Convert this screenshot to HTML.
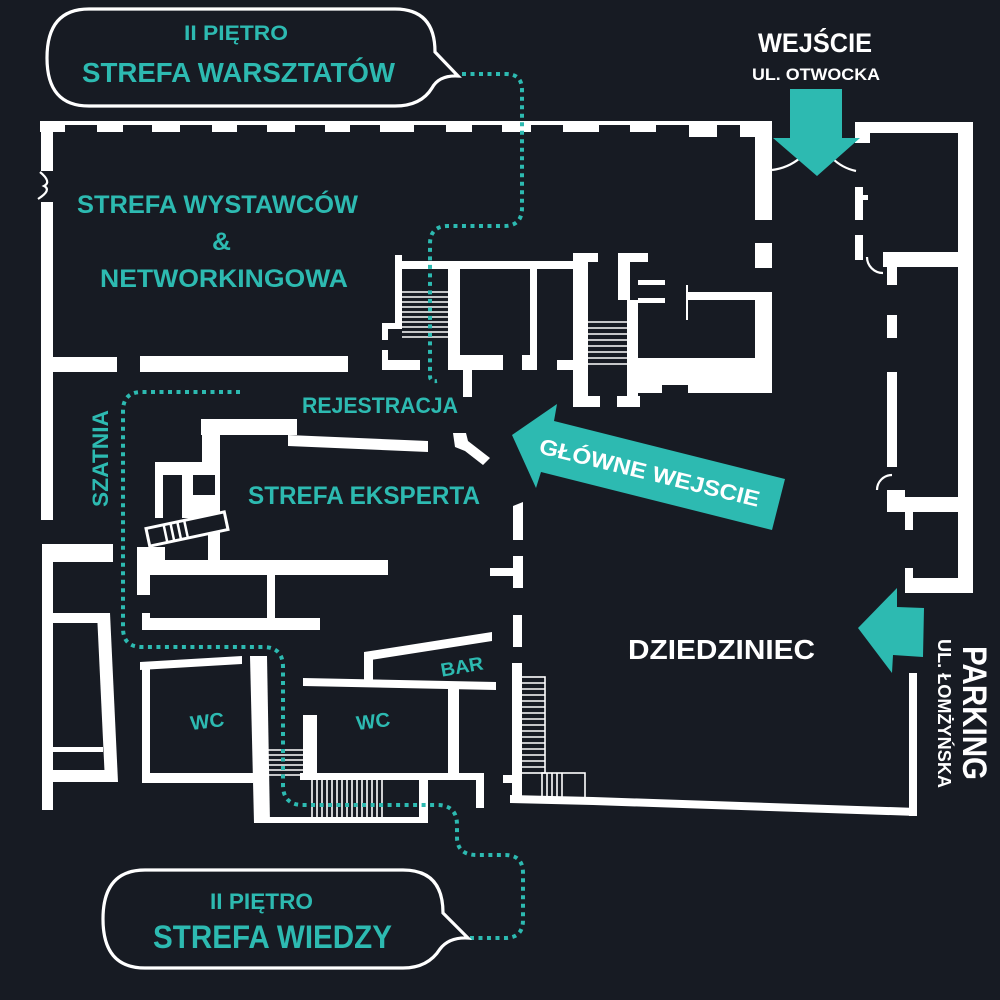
<!DOCTYPE html>
<html><head><meta charset="utf-8"><style>
html,body{margin:0;padding:0;background:#171b23;}
svg{display:block;}
text{font-family:"Liberation Sans","DejaVu Sans",sans-serif;font-weight:bold;}
</style></head><body>
<svg width="1000" height="1000" viewBox="0 0 1000 1000" xmlns="http://www.w3.org/2000/svg">
<rect width="1000" height="1000" fill="#171b23"/>
<g fill="#ffffff">
<!-- top wall -->
<rect x="40" y="121" width="732" height="4"/>
<rect x="40" y="121" width="25" height="11"/>
<rect x="97" y="121" width="26" height="11"/>
<rect x="152" y="121" width="28" height="11"/>
<rect x="212" y="121" width="25" height="11"/>
<rect x="267" y="121" width="28" height="11"/>
<rect x="325" y="121" width="25" height="11"/>
<rect x="380" y="121" width="34" height="11"/>
<rect x="446" y="121" width="26" height="11"/>
<rect x="502" y="121" width="29" height="11"/>
<rect x="563" y="121" width="36" height="11"/>
<rect x="630" y="121" width="26" height="11"/>
<rect x="689" y="121" width="28" height="16"/>
<rect x="740" y="121" width="32" height="16"/>
<!-- left wall -->
<rect x="41" y="121" width="12" height="50"/>
<rect x="41" y="202" width="12" height="318"/>
<rect x="53" y="357" width="64" height="15"/>
<rect x="140" y="356" width="208" height="16"/>
<!-- lower left -->
<rect x="42" y="544" width="11" height="266"/>
<rect x="42" y="544" width="71" height="18"/>
<rect x="53" y="613" width="50" height="10"/>
<polygon points="97,613 110,613 118,782 105,782"/>
<rect x="53" y="747" width="50" height="5"/>
<rect x="53" y="770" width="53" height="12"/>
<!-- middle left structure -->
<rect x="201" y="419" width="96" height="16"/>
<polygon points="288,435 428,441 428,452 288,446"/>
<rect x="202" y="435" width="18" height="30"/>
<rect x="155" y="462" width="65" height="56"/>
<rect x="208" y="518" width="12" height="45"/>
<rect x="137" y="547" width="28" height="15"/>
<rect x="137" y="547" width="13" height="48"/>
<rect x="137" y="560" width="251" height="15"/>
<rect x="267" y="575" width="8" height="45"/>
<rect x="142" y="618" width="178" height="12"/>
<rect x="142" y="613" width="8" height="17"/>
<polygon points="453,433 466,433 468,441 490,458 483,465 465,451 455,447"/>
<!-- center dashed column -->
<polygon points="513,506 523,502 523,540 513,540"/>
<rect x="513" y="556" width="10" height="32"/>
<rect x="490" y="568" width="23" height="8"/>
<rect x="513" y="615" width="9" height="32"/>
<rect x="512" y="663" width="10" height="139"/>
<rect x="503" y="775" width="9" height="8"/>
<!-- bottom wall -->
<polygon points="510,795 593,797 917,808 917,816 593,805 510,803"/>
<rect x="909" y="673" width="8" height="143"/>
<!-- upper middle -->
<rect x="395" y="255" width="7" height="74"/>
<rect x="395" y="261" width="178" height="8"/>
<rect x="382" y="323" width="20" height="6"/>
<rect x="382" y="323" width="6" height="17"/>
<rect x="382" y="350" width="6" height="20"/>
<rect x="382" y="360" width="38" height="10"/>
<rect x="448" y="269" width="12" height="101"/>
<rect x="448" y="355" width="55" height="15"/>
<rect x="463" y="370" width="9" height="27"/>
<rect x="530" y="269" width="7" height="101"/>
<rect x="522" y="355" width="15" height="15"/>
<rect x="557" y="360" width="16" height="10"/>
<rect x="573" y="253" width="15" height="154"/>
<rect x="573" y="253" width="25" height="9"/>
<rect x="573" y="396" width="27" height="11"/>
<rect x="618" y="253" width="30" height="9"/>
<rect x="618" y="262" width="12" height="38"/>
<rect x="627" y="300" width="11" height="107"/>
<rect x="617" y="396" width="23" height="11"/>
<rect x="638" y="280" width="27" height="5"/>
<rect x="638" y="298" width="27" height="5"/>
<rect x="687" y="292" width="85" height="8"/>
<rect x="755" y="292" width="17" height="101"/>
<rect x="627" y="358" width="145" height="27"/>
<rect x="627" y="385" width="35" height="8"/>
<rect x="688" y="385" width="84" height="8"/>
<rect x="686" y="285" width="2" height="35"/>
<!-- entrance left wall -->
<rect x="755" y="121" width="17" height="99"/>
<rect x="755" y="243" width="17" height="25"/>
<!-- right block -->
<rect x="855" y="122" width="118" height="11"/>
<rect x="958" y="122" width="15" height="471"/>
<rect x="855" y="122" width="15" height="21"/>
<rect x="855" y="187" width="8" height="33"/>
<rect x="863" y="195" width="5" height="5"/>
<rect x="855" y="235" width="8" height="25"/>
<rect x="883" y="252" width="75" height="15"/>
<rect x="887" y="267" width="10" height="18"/>
<rect x="887" y="315" width="10" height="23"/>
<rect x="887" y="372" width="10" height="95"/>
<rect x="887" y="490" width="18" height="22"/>
<rect x="887" y="497" width="71" height="15"/>
<rect x="905" y="512" width="8" height="18"/>
<rect x="905" y="568" width="8" height="25"/>
<rect x="905" y="578" width="68" height="15"/>
<!-- WC area -->
<polygon points="140,662 242,656 242,664 140,670"/>
<rect x="142" y="662" width="8" height="121"/>
<rect x="142" y="773" width="111" height="10"/>
<polygon points="250,656 267,656 270,823 254,823"/>
<rect x="266" y="817" width="162" height="6"/>
<polygon points="303,678 496,682 496,690 303,686"/>
<polygon points="364,652 492,632 492,641 364,661"/>
<rect x="364" y="652" width="9" height="28"/>
<rect x="303" y="715" width="14" height="58"/>
<rect x="448" y="689" width="11" height="84"/>
<rect x="300" y="773" width="184" height="7"/>
<rect x="476" y="773" width="8" height="35"/>
<rect x="419" y="780" width="9" height="43"/>
</g>
<!-- dark inner cutouts -->
<g fill="#171b23">
<rect x="163" y="475" width="19" height="45"/>
<rect x="193" y="475" width="22" height="20"/>
</g>
<!-- stairs -->
<g stroke="#ffffff" stroke-width="1.6" fill="none">
<line x1="402" y1="292" x2="448" y2="292"/><line x1="402" y1="297" x2="448" y2="297"/>
<line x1="402" y1="302" x2="448" y2="302"/><line x1="402" y1="307" x2="448" y2="307"/>
<line x1="402" y1="312" x2="448" y2="312"/><line x1="402" y1="317" x2="448" y2="317"/>
<line x1="402" y1="322" x2="448" y2="322"/><line x1="402" y1="327" x2="448" y2="327"/>
<line x1="402" y1="332" x2="448" y2="332"/><line x1="402" y1="337" x2="448" y2="337"/>
<line x1="588" y1="322" x2="627" y2="322"/><line x1="588" y1="328" x2="627" y2="328"/>
<line x1="588" y1="334" x2="627" y2="334"/><line x1="588" y1="340" x2="627" y2="340"/>
<line x1="588" y1="346" x2="627" y2="346"/><line x1="588" y1="352" x2="627" y2="352"/>
<line x1="588" y1="358" x2="627" y2="358"/><line x1="588" y1="364" x2="627" y2="364"/>
<rect x="521" y="677" width="24" height="96"/>
<line x1="521" y1="683" x2="545" y2="683"/><line x1="521" y1="689" x2="545" y2="689"/>
<line x1="521" y1="695" x2="545" y2="695"/><line x1="521" y1="701" x2="545" y2="701"/>
<line x1="521" y1="707" x2="545" y2="707"/><line x1="521" y1="713" x2="545" y2="713"/>
<line x1="521" y1="719" x2="545" y2="719"/><line x1="521" y1="725" x2="545" y2="725"/>
<line x1="521" y1="731" x2="545" y2="731"/><line x1="521" y1="737" x2="545" y2="737"/>
<line x1="521" y1="743" x2="545" y2="743"/><line x1="521" y1="749" x2="545" y2="749"/>
<line x1="521" y1="755" x2="545" y2="755"/><line x1="521" y1="761" x2="545" y2="761"/>
<line x1="521" y1="767" x2="545" y2="767"/>
<rect x="542" y="773" width="43" height="27"/>
<line x1="547" y1="773" x2="547" y2="800"/><line x1="552" y1="773" x2="552" y2="800"/>
<line x1="557" y1="773" x2="557" y2="800"/><line x1="562" y1="773" x2="562" y2="800"/>
<line x1="267" y1="750" x2="303" y2="750"/><line x1="267" y1="755" x2="303" y2="755"/>
<line x1="267" y1="760" x2="303" y2="760"/><line x1="267" y1="765" x2="303" y2="765"/>
<line x1="267" y1="770" x2="303" y2="770"/><line x1="267" y1="775" x2="303" y2="775"/>
<line x1="312" y1="780" x2="312" y2="818"/><line x1="317" y1="780" x2="317" y2="818"/>
<line x1="322" y1="780" x2="322" y2="818"/><line x1="327" y1="780" x2="327" y2="818"/>
<line x1="332" y1="780" x2="332" y2="818"/><line x1="337" y1="780" x2="337" y2="818"/>
<line x1="342" y1="780" x2="342" y2="818"/><line x1="347" y1="780" x2="347" y2="818"/>
<line x1="352" y1="780" x2="352" y2="818"/><line x1="357" y1="780" x2="357" y2="818"/>
<line x1="362" y1="780" x2="362" y2="818"/><line x1="367" y1="780" x2="367" y2="818"/>
<line x1="372" y1="780" x2="372" y2="818"/><line x1="377" y1="780" x2="377" y2="818"/>
<line x1="382" y1="780" x2="382" y2="818"/>
</g>
<!-- rotated stair -->
<g transform="translate(187,529) rotate(-12)">
<rect x="-40" y="-9" width="80" height="18" fill="#171b23" stroke="#fff" stroke-width="3"/>
<g stroke="#fff" stroke-width="2.5">
<line x1="-22" y1="-9" x2="-22" y2="9"/><line x1="-15" y1="-9" x2="-15" y2="9"/>
<line x1="-8" y1="-9" x2="-8" y2="9"/><line x1="-1" y1="-9" x2="-1" y2="9"/>
</g></g>
<!-- door arcs -->
<g stroke="#fff" stroke-width="2.2" fill="none">
<path d="M40,172 Q52,182 44,186 Q52,190 38,199"/>
<path d="M772,170 Q788,168 800,158"/>
<path d="M832,158 Q842,168 856,171"/>
<path d="M867,257 A16,16 0 0 0 883,273"/>
<path d="M892,475 A15,15 0 0 0 877,490"/>
</g>
<!-- dotted paths -->
<g stroke="#2dbab1" stroke-width="4" stroke-dasharray="4 4.5" fill="none">
<path d="M462,74 H506 Q522,74 522,90 V208 Q522,226 504,226 H448 Q430,226 430,244 V376 Q430,382 437,381"/>
<path d="M240,392 H142 Q123,392 123,411 V628 Q123,647 142,647 H263 Q283,647 283,667 V785 Q283,805 303,805 H437 Q457,805 457,825 V837 Q457,855 477,855 H505 Q523,855 523,873 V920 Q523,938 505,938 H470"/>
</g>
<!-- bubbles -->
<g stroke="#fff" stroke-width="3.2" fill="#171b23">
<path d="M89,9 H395 Q435,9 435,52 L458,76 Q439,75 432,88 Q421,106 395,106 H89 Q47,106 47,58 Q47,9 89,9 Z"/>
<path d="M145,870 H403 Q443,870 443,913 L468,938 Q449,937 440,949 Q428,968 403,968 H145 Q103,968 103,919 Q103,870 145,870 Z"/>
</g>
<!-- teal arrows -->
<g fill="#2dbab1">
<polygon points="790,89 842,89 842,138 860,138 817,176 773,138 790,138"/>
<polygon points="858,628 897,588 897,607 924,608 923,657 893,655 892,673"/>
<polygon points="512,435 557,404 554,421 785,479 772,530 541,472 536,488"/>
</g>
<!-- texts -->
<g fill="#2dbab1">
<text x="184" y="40" font-size="21" textLength="104" lengthAdjust="spacingAndGlyphs">II PIĘTRO</text>
<text x="82" y="82" font-size="28" textLength="313" lengthAdjust="spacingAndGlyphs">STREFA WARSZTATÓW</text>
<text x="210" y="909" font-size="22" textLength="103" lengthAdjust="spacingAndGlyphs">II PIĘTRO</text>
<text x="153" y="948" font-size="32" textLength="239" lengthAdjust="spacingAndGlyphs">STREFA WIEDZY</text>
<text x="77" y="213" font-size="25" textLength="281" lengthAdjust="spacingAndGlyphs">STREFA WYSTAWCÓW</text>
<text x="212" y="250" font-size="25" textLength="19" lengthAdjust="spacingAndGlyphs">&amp;</text>
<text x="100" y="287" font-size="25" textLength="248" lengthAdjust="spacingAndGlyphs">NETWORKINGOWA</text>
<text x="302" y="413" font-size="22" textLength="156" lengthAdjust="spacingAndGlyphs">REJESTRACJA</text>
<text x="248" y="504" font-size="25" textLength="232" lengthAdjust="spacingAndGlyphs">STREFA EKSPERTA</text>
<text transform="translate(108,507) rotate(-90)" x="0" y="0" font-size="22" textLength="97" lengthAdjust="spacingAndGlyphs">SZATNIA</text>
<text transform="translate(208,728) rotate(-7)" x="0" y="0" font-size="20" text-anchor="middle" textLength="34" lengthAdjust="spacingAndGlyphs">WC</text>
<text transform="translate(374,728) rotate(-7)" x="0" y="0" font-size="20" text-anchor="middle" textLength="34" lengthAdjust="spacingAndGlyphs">WC</text>
<text transform="translate(463,673) rotate(-10)" x="0" y="0" font-size="19" text-anchor="middle" textLength="43" lengthAdjust="spacingAndGlyphs">BAR</text>
</g>
<g fill="#ffffff">
<text x="758" y="52" font-size="27" textLength="114" lengthAdjust="spacingAndGlyphs">WEJŚCIE</text>
<text x="752" y="80" font-size="16.5" textLength="128" lengthAdjust="spacingAndGlyphs">UL. OTWOCKA</text>
<text x="628" y="659" font-size="28" textLength="187" lengthAdjust="spacingAndGlyphs">DZIEDZINIEC</text>
<text transform="translate(963,646) rotate(90)" x="0" y="0" font-size="34" textLength="134" lengthAdjust="spacingAndGlyphs">PARKING</text>
<text transform="translate(938,639) rotate(90)" x="0" y="0" font-size="18" textLength="149" lengthAdjust="spacingAndGlyphs">UL. ŁOMŻYŃSKA</text>
<text transform="translate(538,453) rotate(13.8)" x="0" y="0" font-size="22" textLength="226" lengthAdjust="spacingAndGlyphs">GŁÓWNE WEJSCIE</text>
</g>
</svg>
</body></html>
